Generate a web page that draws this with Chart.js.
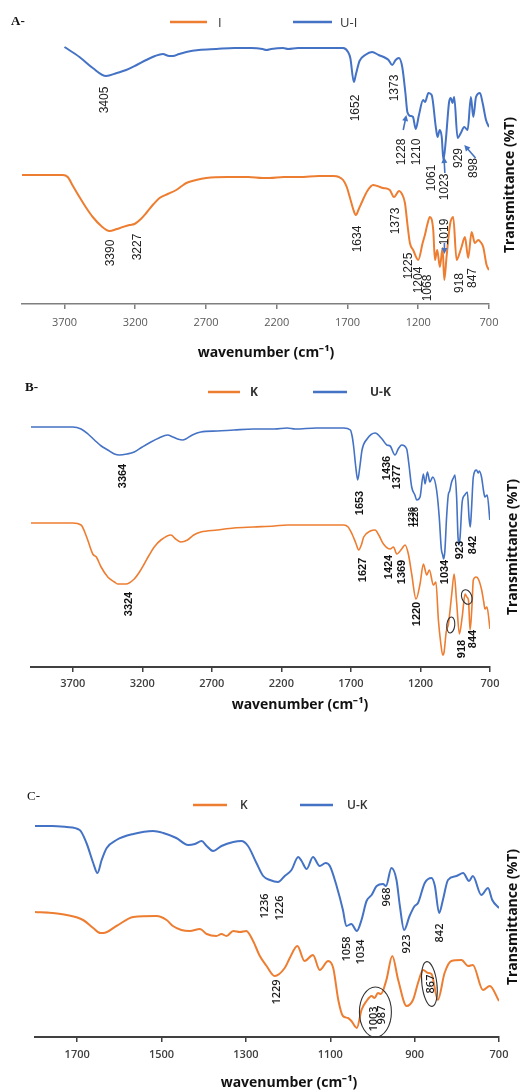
<!DOCTYPE html>
<html>
<head>
<meta charset="utf-8">
<script src="https://cdn.jsdelivr.net/npm/chart.js@4.4.1/dist/chart.umd.min.js"></script>
<style>
  html, body { margin: 0; padding: 0; background: #fff; }
  body { width: 527px; height: 1092px; position: relative; overflow: hidden; }
  canvas { position: absolute; left: 0; }
</style>
</head>
<body>
<canvas id="panelA" width="527" height="370" style="top:0px"></canvas>
<canvas id="panelB" width="527" height="360" style="top:370px"></canvas>
<canvas id="panelC" width="527" height="322" style="top:770px"></canvas>
<script>
// FTIR spectra: [wavenumber cm-1, transmittance level (arbitrary offset units)]
const ticksWide = [700, 1200, 1700, 2200, 2700, 3200, 3700];
const ticksNarrow = [700, 900, 1100, 1300, 1500, 1700];

// A- : I / U-I
const aI = [[4000,129],[3850,129],[3712,129],[3677,127],[3640,118],[3594,107],[3550,97],[3500,87],[3440,78],[3382,73],[3330,75],[3288,77],[3240,79],[3205,80],[3160,85],[3122,91],[3070,100],[3028,106],[2970,110],[2910,114],[2870,118],[2839,121],[2770,124],[2698,126],[2550,127],[2400,127],[2300,126],[2250,126],[2150,127],[2038,127],[1900,128],[1802,128],[1760,127],[1731,124],[1705,117],[1684,107],[1660,95],[1641,89],[1620,95],[1601,101],[1560,113],[1519,119],[1490,118],[1448,116],[1401,114],[1372,107],[1335,113],[1315,110],[1294,101],[1275,78],[1259,61],[1236,54],[1200,44],[1169,61],[1153,69],[1135,80],[1118,87],[1094,74],[1082,44],[1066,54],[1047,37],[1028,56],[1016,24],[1000,47],[976,79],[953,87],[929,44],[910,50],[894,57],[870,67],[847,46],[823,72],[800,61],[776,64],[760,62],[741,57],[717,39],[700,34]];
const aUI = [[3700,257],[3594,247],[3500,236],[3406,228],[3330,231],[3264,234],[3190,239],[3122,244],[3060,248],[3005,250],[2960,248],[2934,248],[2890,250],[2839,252],[2750,254],[2627,255],[2500,256],[2380,256],[2300,255],[2273,254],[2240,255],[2155,256],[2120,255],[2050,256],[1950,256],[1850,256],[1780,256],[1731,256],[1696,252],[1680,246],[1655,222],[1640,230],[1615,243],[1575,249],[1526,252],[1480,249],[1431,246],[1410,244],[1384,239],[1360,244],[1337,246],[1313,237],[1290,210],[1277,192],[1254,188],[1237,187],[1218,175],[1195,189],[1166,204],[1152,202],[1128,211],[1105,209],[1076,177],[1064,167],[1048,174],[1034,167],[1022,144],[1005,164],[982,202],[970,206],[958,201],[946,207],[922,166],[899,171],[875,177],[851,174],[828,207],[811,187],[792,207],[764,211],[745,201],[721,184],[700,177]];

// B- : K / U-K
const bK = [[4000,144],[3850,144],[3700,144],[3640,142],[3600,130],[3556,113],[3530,110],[3496,100],[3448,90],[3400,85],[3377,83],[3317,83],[3258,88],[3220,95],[3186,103],[3150,112],[3114,120],[3066,127],[2994,132],[2960,128],[2923,125],[2875,127],[2830,132],[2779,135],[2660,137],[2541,139],[2400,140],[2250,141],[2158,142],[2000,142],[1850,142],[1752,142],[1720,140],[1692,133],[1665,124],[1644,117],[1625,122],[1608,130],[1560,136],[1526,137],[1500,132],[1466,123],[1418,118],[1394,120],[1370,113],[1335,118],[1311,122],[1287,113],[1263,93],[1232,68],[1203,83],[1179,103],[1155,92],[1136,97],[1107,82],[1089,85],[1071,47],[1055,25],[1040,12],[1030,15],[1015,35],[999,43],[975,73],[958,93],[940,65],[920,33],[900,50],[879,73],[867,70],[855,67],[843,37],[830,60],[820,87],[800,90],[784,88],[760,77],[745,65],[736,58],[722,60],[700,38]];
const bUK = [[4000,240],[3850,240],[3700,240],[3640,238],[3590,233],[3544,227],[3495,221],[3448,217],[3400,213],[3365,212],[3310,213],[3258,215],[3200,220],[3138,225],[3080,229],[3018,232],[2980,230],[2946,228],[2910,227],[2887,228],[2840,232],[2779,235],[2660,236],[2541,237],[2400,238],[2250,238],[2158,239],[2100,238],[1950,239],[1850,239],[1752,239],[1704,237],[1690,230],[1680,220],[1665,200],[1651,187],[1636,200],[1620,217],[1584,228],[1526,234],[1476,228],[1442,222],[1418,221],[1383,212],[1360,218],[1335,222],[1299,218],[1285,205],[1263,180],[1240,172],[1227,167],[1203,170],[1179,193],[1167,183],[1150,195],[1132,185],[1112,190],[1084,177],[1065,150],[1050,118],[1040,112],[1034,108],[1025,115],[1012,150],[1000,172],[990,176],[976,185],[960,190],[952,192],[940,170],[930,130],[923,122],[915,130],[900,165],[881,172],[863,175],[850,148],[842,140],[834,155],[820,190],[797,197],[785,194],[777,196],[761,190],[745,175],[737,170],[720,172],[701,147]];

// C- : K / U-K (fingerprint region)
const cK = [[1800,125],[1760,124],[1725,122],[1686,117],[1662,109],[1645,104],[1638,104],[1607,111],[1567,120],[1512,121],[1488,117],[1473,111],[1453,107],[1433,106],[1409,108],[1393,103],[1370,101],[1358,103],[1346,101],[1330,106],[1314,105],[1299,106],[1283,96],[1267,81],[1251,71],[1232,61],[1208,69],[1196,79],[1178,91],[1161,76],[1141,82],[1125,67],[1105,76],[1093,69],[1081,37],[1070,21],[1058,19],[1050,16],[1037,9],[1026,27],[1014,36],[1002,41],[995,39],[987,44],[980,43],[967,57],[953,81],[939,57],[919,31],[904,37],[892,54],[880,67],[868,64],[860,63],[845,37],[829,64],[813,76],[789,77],[773,71],[762,72],[738,47],[722,51],[700,36]];
const cUK = [[1800,211],[1760,211],[1725,210],[1694,207],[1678,194],[1662,174],[1652,164],[1642,177],[1630,189],[1607,197],[1567,203],[1520,206],[1496,204],[1465,199],[1437,192],[1421,193],[1405,196],[1393,191],[1378,186],[1358,191],[1330,195],[1311,196],[1295,191],[1275,174],[1259,161],[1243,157],[1224,155],[1208,161],[1192,167],[1176,180],[1168,176],[1156,168],[1141,180],[1125,171],[1111,174],[1101,171],[1085,151],[1070,127],[1062,111],[1050,113],[1037,106],[1026,117],[1014,136],[1002,142],[990,151],[975,153],[968,151],[955,169],[943,157],[935,131],[925,107],[912,121],[900,131],[892,134],[876,154],[860,159],[852,151],[842,124],[833,137],[821,157],[801,161],[785,164],[771,156],[762,161],[742,142],[726,149],[716,137],[700,129]];

// peak labels: [text, wavenumber, level]
const aPeaksUI = [['3405',3417,204],['1652',1641,196],['1373',1365,216],['1228',1318,152],['1210',1213,152],['1061',1105,126],['1023',1011,117],['929',915,146],['898',810,136]];
const aPeaksI = [['3390',3370,51],['3227',3182,57],['1634',1625,65],['1373',1360,83],['1225',1266,38],['1204',1200,24],['1068',1130,16],['1019',1012,72],['918',910,21],['847',815,26]];
const bPeaksUK = [['3364',3341,191],['1653',1632,164],['1436',1441,199],['1377',1369,190],['1034',1023,95],['923',915,117],['842',820,122]];
const bPeaksSmall = [['1236',1263,150],['1226',1232,150]];
const bPeaksK = [['3324',3293,63],['1627',1613,97],['1424',1429,100],['1369',1333,95],['1220',1226,53],['918',903,18],['844',824,28]];
const cPeaksUK = [['1236',1255,131],['1226',1220,129],['1058',1060,88],['1034',1028,85],['968',967,140],['923',918,93],['842',841,104]];
const cPeaksK = [['1229',1226,45],['1003',997,18],['987',977,22],['867',862,53]];

// arrows [fromWn, fromLvl, toWn, toLvl]
const aArrows = [[1306,174,1284,189],[1012,131,1018,147],[795,146,875,159],[1015,61,1015,50]];
// ellipses [wn, lvl, rx, ry, rotation]
const bRings = [[982,42,4,8,0.1],[867,70,5,7.5,-0.35]];
const cRings = [[993,25,16,25,0],[865,53,7.5,22.5,-0.12]];

const ORANGE = '#ED7D31';
const BLUE = '#4472C4';

function notesPlugin(p) {
  return {
    id: 'ftirNotes',
    afterDatasetsDraw(chart) {
      const ctx = chart.ctx;
      const xs = chart.scales.x, ys = chart.scales.y;
      const px = v => xs.getPixelForValue(v), py = v => ys.getPixelForValue(v);
      ctx.save();
      // rotated peak labels
      p.peaks.forEach(g => {
        ctx.font = g.font;
        ctx.fillStyle = g.color;
        ctx.textAlign = 'center';
        ctx.textBaseline = 'middle';
        g.items.forEach(([t, wn, lvl]) => {
          ctx.save();
          ctx.translate(px(wn), py(lvl));
          ctx.rotate(-Math.PI / 2);
          ctx.fillText(t, 0, 0);
          ctx.restore();
        });
      });
      // arrows
      (p.arrows || []).forEach(([x0, y0, x1, y1]) => {
        const a = px(x0), b = py(y0), c = px(x1), d = py(y1);
        const ang = Math.atan2(d - b, c - a);
        ctx.strokeStyle = BLUE; ctx.fillStyle = BLUE; ctx.lineWidth = 1.6;
        ctx.beginPath(); ctx.moveTo(a, b); ctx.lineTo(c - 4 * Math.cos(ang), d - 4 * Math.sin(ang)); ctx.stroke();
        ctx.beginPath();
        ctx.moveTo(c, d);
        ctx.lineTo(c - 6 * Math.cos(ang) + 3 * Math.sin(ang), d - 6 * Math.sin(ang) - 3 * Math.cos(ang));
        ctx.lineTo(c - 6 * Math.cos(ang) - 3 * Math.sin(ang), d - 6 * Math.sin(ang) + 3 * Math.cos(ang));
        ctx.closePath(); ctx.fill();
      });
      // ellipses
      (p.rings || []).forEach(([wn, lvl, rx, ry, rot]) => {
        ctx.strokeStyle = '#333'; ctx.lineWidth = 1.1;
        ctx.beginPath(); ctx.ellipse(px(wn), py(lvl), rx, ry, rot, 0, Math.PI * 2); ctx.stroke();
      });
      // panel letter
      ctx.fillStyle = '#111';
      ctx.font = p.letterFont;
      ctx.textAlign = 'left'; ctx.textBaseline = 'middle';
      ctx.fillText(p.letter, p.letterX, p.letterY);
      // legend
      ctx.font = p.legendFont;
      chart.data.datasets.forEach((ds, i) => {
        const it = p.legend[i];
        ctx.strokeStyle = ds.borderColor; ctx.lineWidth = 2.5;
        ctx.beginPath(); ctx.moveTo(it[0], p.legendY); ctx.lineTo(it[1], p.legendY); ctx.stroke();
        ctx.fillStyle = '#333';
        ctx.fillText(ds.label, it[2], p.legendY + 1);
      });
      // axis titles
      ctx.fillStyle = '#111';
      ctx.font = 'bold 14px "Open Sans"';
      ctx.textAlign = 'center';
      ctx.fillText('wavenumber (cm\u207B\u00B9)', p.xTitle[0], p.xTitle[1]);
      ctx.save();
      ctx.translate(p.yTitle[0], p.yTitle[1]);
      ctx.rotate(-Math.PI / 2);
      ctx.fillText('Transmittance (%T)', 0, 0);
      ctx.restore();
      ctx.restore();
    }
  };
}

function makePanel(id, p) {
  const canvas = document.getElementById(id);
  const H = canvas.height;
  const tickLen = 5, tickFont = 11;
  const axisH = tickLen + tickFont * 1.2 + 2 * p.tickPad;
  new Chart(canvas, {
    type: 'line',
    data: {
      datasets: p.series.map(s => ({
        label: s.label,
        data: s.data.map(([x, y]) => ({x, y})),
        borderColor: s.color,
        backgroundColor: s.color,
        borderWidth: p.lineWidth,
        pointRadius: 0,
        cubicInterpolationMode: 'monotone',
        fill: false
      }))
    },
    options: {
      responsive: false,
      animation: false,
      events: [],
      layout: {
        padding: {
          left: p.area.left,
          right: canvas.width - p.area.right,
          top: p.area.top,
          bottom: H - p.area.bottom - axisH
        }
      },
      plugins: { legend: { display: false }, tooltip: { enabled: false } },
      scales: {
        x: {
          type: 'linear',
          reverse: true,
          min: p.xMin,
          max: p.xMax,
          afterBuildTicks: axis => { axis.ticks = p.ticks.map(v => ({value: v})); },
          ticks: {
            autoSkip: false, maxRotation: 0, padding: p.tickPad,
            color: p.tickColor,
            font: { family: 'Open Sans', size: tickFont, weight: p.tickWeight },
            callback: v => String(v)
          },
          grid: { drawOnChartArea: false, drawTicks: true, tickLength: tickLen, color: p.axisColor, lineWidth: 1.5 },
          border: { display: true, color: p.axisColor, width: p.axisWidth }
        },
        y: { display: false, min: 0, max: p.area.bottom - p.area.top }
      }
    },
    plugins: [notesPlugin(p)]
  });
}

makePanel('panelA', {
  series: [{label: 'I', data: aI, color: ORANGE}, {label: 'U-I', data: aUI, color: BLUE}],
  xMin: 700, xMax: 4000, ticks: ticksWide,
  area: {left: 22, right: 489, top: 34, bottom: 304},
  tickPad: 7, tickColor: '#595959', tickWeight: 'normal', axisColor: '#7f7f7f', axisWidth: 1.5, lineWidth: 2,
  peaks: [
    {font: '12px "Liberation Sans"', color: '#222', items: aPeaksUI},
    {font: '12px "Liberation Sans"', color: '#222', items: aPeaksI}
  ],
  arrows: aArrows,
  letter: 'A-', letterFont: 'bold 13px "Liberation Serif"', letterX: 11, letterY: 22,
  legendFont: '13px "Open Sans"', legendY: 22, legend: [[170, 207, 218], [293, 332, 340]],
  xTitle: [266, 353], yTitle: [510, 185]
});

makePanel('panelB', {
  series: [{label: 'K', data: bK, color: ORANGE}, {label: 'U-K', data: bUK, color: BLUE}],
  xMin: 700, xMax: 4000, ticks: ticksWide,
  area: {left: 31, right: 490, top: 40, bottom: 297},
  tickPad: 5, tickColor: '#404040', tickWeight: '600', axisColor: '#404040', axisWidth: 2, lineWidth: 1.6,
  peaks: [
    {font: 'bold 11px "Liberation Sans"', color: '#111', items: bPeaksUK},
    {font: 'bold 9px "Liberation Sans"', color: '#111', items: bPeaksSmall},
    {font: 'bold 11px "Liberation Sans"', color: '#111', items: bPeaksK}
  ],
  rings: bRings,
  letter: 'B-', letterFont: 'bold 13px "Liberation Serif"', letterX: 25, letterY: 18,
  legendFont: 'bold 12px "Open Sans"', legendY: 22, legend: [[208, 240, 250], [313, 347, 370]],
  xTitle: [300, 335], yTitle: [513, 177]
});

makePanel('panelC', {
  series: [{label: 'K', data: cK, color: ORANGE}, {label: 'U-K', data: cUK, color: BLUE}],
  xMin: 700, xMax: 1800, ticks: ticksNarrow,
  area: {left: 35, right: 499, top: 45, bottom: 267},
  tickPad: 6, tickColor: '#404040', tickWeight: '600', axisColor: '#404040', axisWidth: 2, lineWidth: 2,
  peaks: [
    {font: '600 11px "Open Sans"', color: '#1a1a1a', items: cPeaksUK},
    {font: '600 11px "Open Sans"', color: '#1a1a1a', items: cPeaksK}
  ],
  rings: cRings,
  letter: 'C-', letterFont: '13px "Liberation Serif"', letterX: 27, letterY: 27,
  legendFont: '600 12px "Open Sans"', legendY: 35, legend: [[193, 227, 240], [300, 333, 347]],
  xTitle: [289, 313], yTitle: [513, 147]
});
</script>
</body>
</html>
